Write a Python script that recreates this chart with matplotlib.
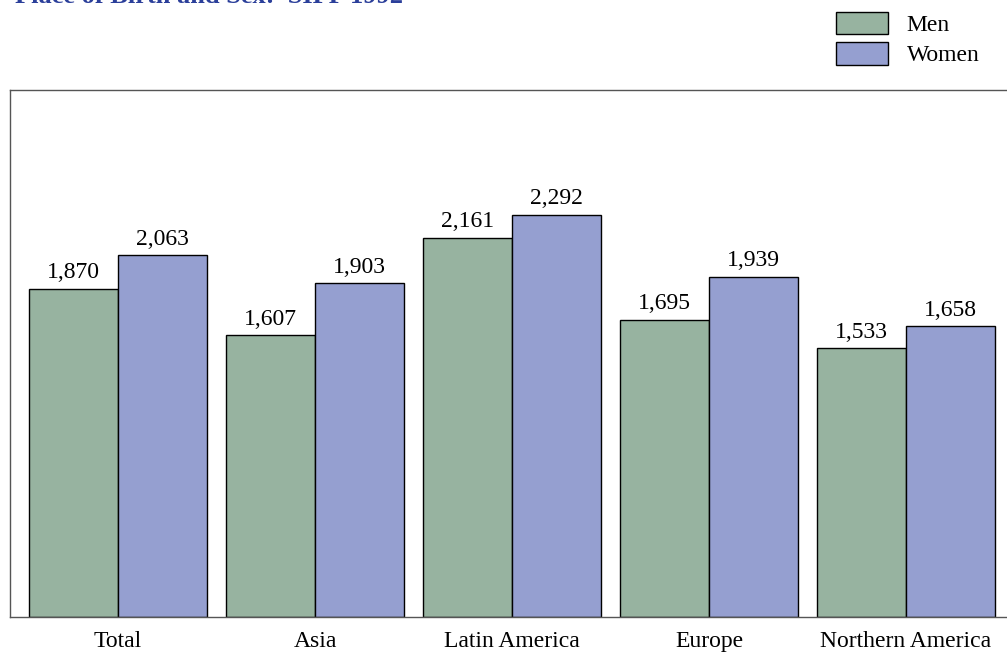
import numpy as np
import matplotlib.pyplot as plt
from matplotlib.patches import Patch

regions = ["Total", "Asia", "Latin America", "Europe", "Northern America"]
men = [1870, 1607, 2161, 1695, 1533]
women = [2063, 1903, 2292, 1939, 1658]

men_color = "#97B3A0"
women_color = "#959FD0"

plt.rcParams["font.family"] = ["Liberation Serif", "DejaVu Serif"]

fig = plt.figure(figsize=(10.07, 6.56), dpi=100)
# axes box: left at x=10, top at y=90, bottom at y=617 (right edge runs off the canvas)
ax = fig.add_axes([10 / 1007, 1 - 617 / 656, 1004 / 1007, 527 / 656])

x = np.arange(len(regions))
w = 0.45
b1 = ax.bar(x - w / 2, men, w, color=men_color, edgecolor="black", linewidth=1.0, label="Men")
b2 = ax.bar(x + w / 2, women, w, color=women_color, edgecolor="black", linewidth=1.0, label="Women")

for bars, vals in ((b1, men), (b2, women)):
    for rect, v in zip(bars, vals):
        ax.annotate(f"{v:,}", (rect.get_x() + rect.get_width() / 2, v),
                    xytext=(0, 4), textcoords="offset points",
                    ha="center", va="bottom", fontsize=17)

ax.set_xlim(-0.548, len(regions) - 1 + 0.548)
ax.set_ylim(0, 3004)
ax.set_yticks([])
ax.set_xticks(x)
ax.set_xticklabels(regions, fontsize=17)
ax.tick_params(axis="x", length=0, pad=10)
for s in ("left", "top", "bottom"):
    ax.spines[s].set_color("#555555")
    ax.spines[s].set_linewidth(1.0)
ax.spines["right"].set_visible(False)

# title is clipped at the top edge in the original
fig.text(15 / 1007, 1 - 3 / 656, "Place of Birth and Sex:  SIPP 1992",
         ha="left", va="baseline", fontsize=19, fontweight="bold", color="#2B3F9A")

handles = [Patch(facecolor=men_color, edgecolor="black", linewidth=1.0, label="Men"),
           Patch(facecolor=women_color, edgecolor="black", linewidth=1.0, label="Women")]
fig.legend(handles=handles, loc="upper left", bbox_to_anchor=(831 / 1007, 1 - 7 / 656),
           frameon=False, fontsize=17, handlelength=2.2, handleheight=1.1,
           labelspacing=0.25, handletextpad=0.8, borderaxespad=0, borderpad=0.2)

fig.savefig("out.png", dpi=100)
